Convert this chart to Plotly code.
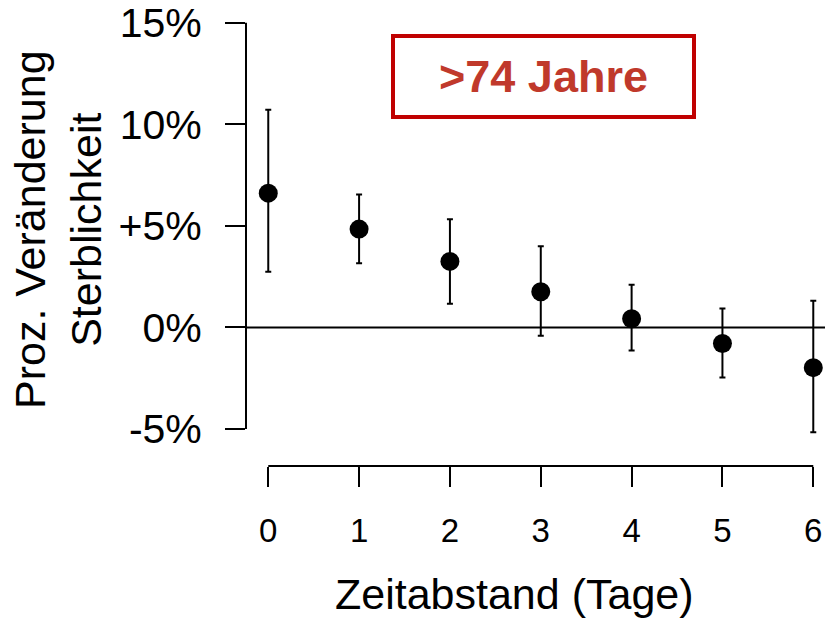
import plotly.graph_objects as go

days = [0, 1, 2, 3, 4, 5, 6]
estimate = [6.61, 4.84, 3.25, 1.76, 0.43, -0.79, -1.98]
lower = [2.74, 3.16, 1.17, -0.41, -1.13, -2.46, -5.16]
upper = [10.71, 6.54, 5.33, 4.00, 2.10, 0.93, 1.31]
y_tickvals = [-5, 0, 5, 10, 15]
y_ticktext = ["-5%", "0%", "+5%", "10%", "15%"]
x_ticktext = ["0", "1", "2", "3", "4", "5", "6"]

FONT = "Arial, 'Liberation Sans', sans-serif"
W, H = 825, 618
PX_PER_UNIT = 20.33  # vertical scale
Y_TOP_PX, Y_BOT_PX = 22.7, 429.0  # pixel rows of 15% and -5%
PAD = 0.5

err_plus = [u - e for u, e in zip(upper, estimate)]
err_minus = [e - l for e, l in zip(estimate, lower)]

y_lo, y_hi = min(y_tickvals) - PAD, max(y_tickvals) + PAD
dom_top = Y_TOP_PX - PAD * PX_PER_UNIT
dom_bot = Y_BOT_PX + PAD * PX_PER_UNIT

fig = go.Figure()
fig.add_trace(go.Scatter(
    x=days, y=estimate, mode="markers",
    marker=dict(color="black", size=19),
    error_y=dict(type="data", symmetric=False, array=err_plus, arrayminus=err_minus,
                 color="black", thickness=2, width=3),
    cliponaxis=False, showlegend=False,
))

# zero reference line
fig.add_shape(type="line", xref="x domain", yref="y", x0=0, x1=1, y0=0, y1=0,
              line=dict(color="black", width=2))
# y axis line (R style, from lowest to highest tick)
fig.add_shape(type="line", xref="x domain", yref="y", x0=0, x1=0,
              y0=min(y_tickvals), y1=max(y_tickvals), line=dict(color="black", width=2))
# x axis baseline (R style, from first to last category)
fig.add_shape(type="line", xref="x", yref="paper", x0=days[0], x1=days[-1],
              y0=(H - 466) / H, y1=(H - 466) / H, line=dict(color="black", width=2))

fig.update_layout(
    width=W, height=H,
    margin=dict(l=0, r=0, t=0, b=0, autoexpand=False),
    paper_bgcolor="white", plot_bgcolor="white",
    font=dict(family=FONT, color="black"),
    xaxis=dict(range=[-0.245, 6.129], domain=[246 / W, 1], tickvals=days, ticktext=x_ticktext,
               showgrid=False, zeroline=False, showline=False, automargin=False,
               ticks="outside", ticklen=20, tickwidth=2, tickcolor="black",
               tickfont=dict(size=33, family=FONT), ticklabelstandoff=15,
               anchor="free", position=(H - 466) / H),
    yaxis=dict(range=[y_lo, y_hi], tickvals=y_tickvals, ticktext=y_ticktext,
               domain=[(H - dom_bot) / H, (H - dom_top) / H], automargin=False,
               showgrid=False, zeroline=False, showline=False,
               ticks="outside", ticklen=20, tickwidth=2, tickcolor="black",
               tickfont=dict(size=41, family=FONT), ticklabelstandoff=15),
    annotations=[
        dict(text="Zeitabstand (Tage)", xref="paper", yref="paper",
             x=514 / W, y=(H - 594) / H, xanchor="center", yanchor="middle",
             showarrow=False, font=dict(size=43, family=FONT)),
        dict(text="Proz. Veränderung<br>Sterblichkeit", xref="paper", yref="paper",
             x=58 / W, y=(H - 230) / H, xanchor="center", yanchor="middle",
             textangle=-90, showarrow=False, font=dict(size=43, family=FONT)),
        dict(text="<b>>74 Jahre</b>", xref="paper", yref="paper",
             x=543.5 / W, y=(H - 76.7) / H, xanchor="center", yanchor="middle",
             showarrow=False, font=dict(size=45, family=FONT, color="#C0392B"),
             bordercolor="#C00000", borderwidth=4, borderpad=0,
             width=297, height=77, bgcolor="white"),
    ],
)

fig.write_html("out.html", config={"displayModeBar": False},
               post_script="document.body.style.margin='0';document.body.style.padding='0';")
